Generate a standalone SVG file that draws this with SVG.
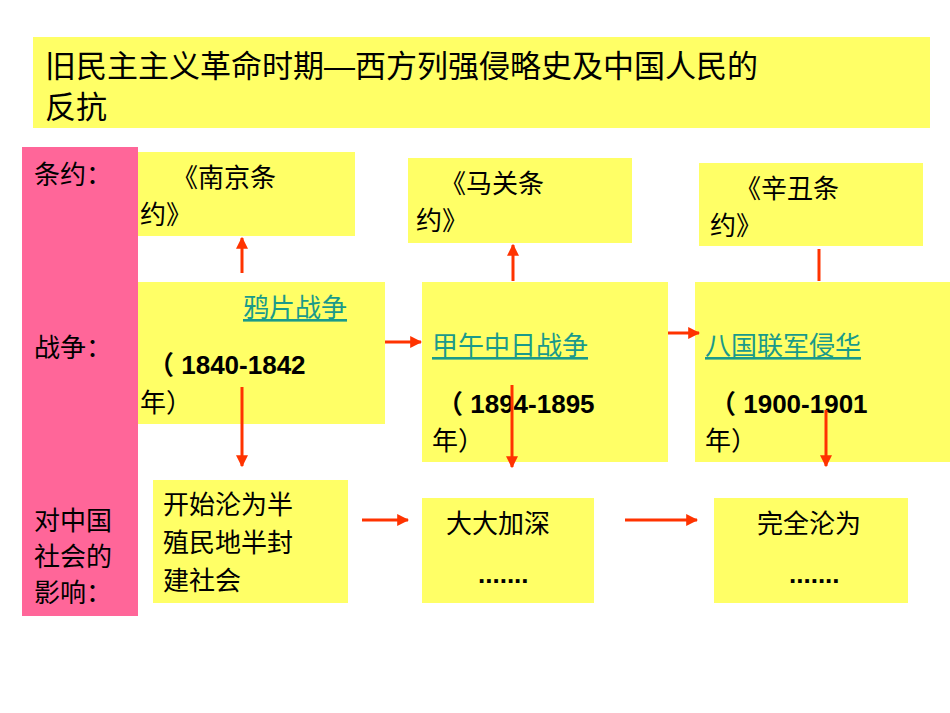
<svg xmlns="http://www.w3.org/2000/svg" width="950" height="713" viewBox="0 0 950 713">
<style>
.b{fill:#FFFF66}
text{font-family:"Liberation Sans","Noto Sans CJK SC",sans-serif;fill:#000}
.t{font-size:26px}
.l{font-size:26px;fill:#1a9a8a;text-decoration:underline}
.n{font-size:26px;font-weight:bold}
.a{stroke:#FF3300;stroke-width:3;fill:none}
</style>
<defs><marker id="h" viewBox="0 0 10 10" refX="9" refY="5" markerWidth="4" markerHeight="4" orient="auto"><path d="M0,0L10,5L0,10z" fill="#FF3300"/></marker></defs>
<rect width="950" height="713" fill="#fff"/>
<g id="title"><rect class="b" x="33" y="37" width="897" height="91"/>
<text x="45" y="77" style="font-size:31px">旧民主主义革命时期—西方列强侵略史及中国人民的</text>
<text x="45" y="118" style="font-size:31px">反抗</text></g>
<g id="side"><rect x="22" y="147" width="116" height="469" fill="#FF6699"/>
<text class="t" x="34" y="184">条约：</text><text class="t" x="34" y="357">战争：</text>
<text class="t" x="34" y="530">对中国</text><text class="t" x="34" y="566">社会的</text><text class="t" x="34" y="602">影响：</text></g>
<g id="t1"><rect class="b" x="138" y="152" width="217" height="84"/><text class="t" x="172" y="187">《南京条</text><text class="t" x="140" y="224">约》</text></g>
<g id="t2"><rect class="b" x="408" y="158" width="224" height="85"/><text class="t" x="440" y="193">《马关条</text><text class="t" x="416" y="230">约》</text></g>
<g id="t3"><rect class="b" x="699" y="163" width="224" height="83"/><text class="t" x="735" y="198">《辛丑条</text><text class="t" x="710" y="235">约》</text></g>
<g id="w1"><rect class="b" x="138" y="282" width="247" height="142"/><text class="l" x="243" y="317">鸦片战争</text><text class="n" x="148" y="374">（ 1840-1842</text><text class="t" x="140" y="412">年）</text></g>
<g id="w2"><rect class="b" x="422" y="282" width="246" height="180"/><text class="l" x="432" y="355">甲午中日战争</text><text class="n" x="437" y="413">（ 1894-1895</text><text class="t" x="432" y="450">年）</text></g>
<g id="w3"><rect class="b" x="695" y="282" width="255" height="180"/><text class="l" x="705" y="355">八国联军侵华</text><text class="n" x="710" y="413">（ 1900-1901</text><text class="t" x="705" y="450">年）</text></g>
<g id="i1"><rect class="b" x="153" y="480" width="195" height="123"/><text class="t" x="163" y="514">开始沦为半</text><text class="t" x="163" y="552">殖民地半封</text><text class="t" x="163" y="590">建社会</text></g>
<g id="i2"><rect class="b" x="422" y="498" width="172" height="105"/><text class="t" x="446" y="533">大大加深</text><text class="n" x="478" y="583">.......</text></g>
<g id="i3"><rect class="b" x="714" y="498" width="194" height="105"/><text class="t" x="757" y="533">完全沦为</text><text class="n" x="789" y="583">.......</text></g>
<g id="connectors">
<path class="a" d="M242,273V238" marker-end="url(#h)"/>
<path class="a" d="M513,281V245" marker-end="url(#h)"/>
<path class="a" d="M819,281V249"/>
<path class="a" d="M242,387V466" marker-end="url(#h)"/>
<path class="a" d="M512,385V467" marker-end="url(#h)"/>
<path class="a" d="M826,410V466" marker-end="url(#h)"/>
<path class="a" d="M385,342H421" marker-end="url(#h)"/>
<path class="a" d="M668,333H699" marker-end="url(#h)"/>
<path class="a" d="M362,520H408" marker-end="url(#h)"/>
<path class="a" d="M625,520H697" marker-end="url(#h)"/>
</g>
</svg>
